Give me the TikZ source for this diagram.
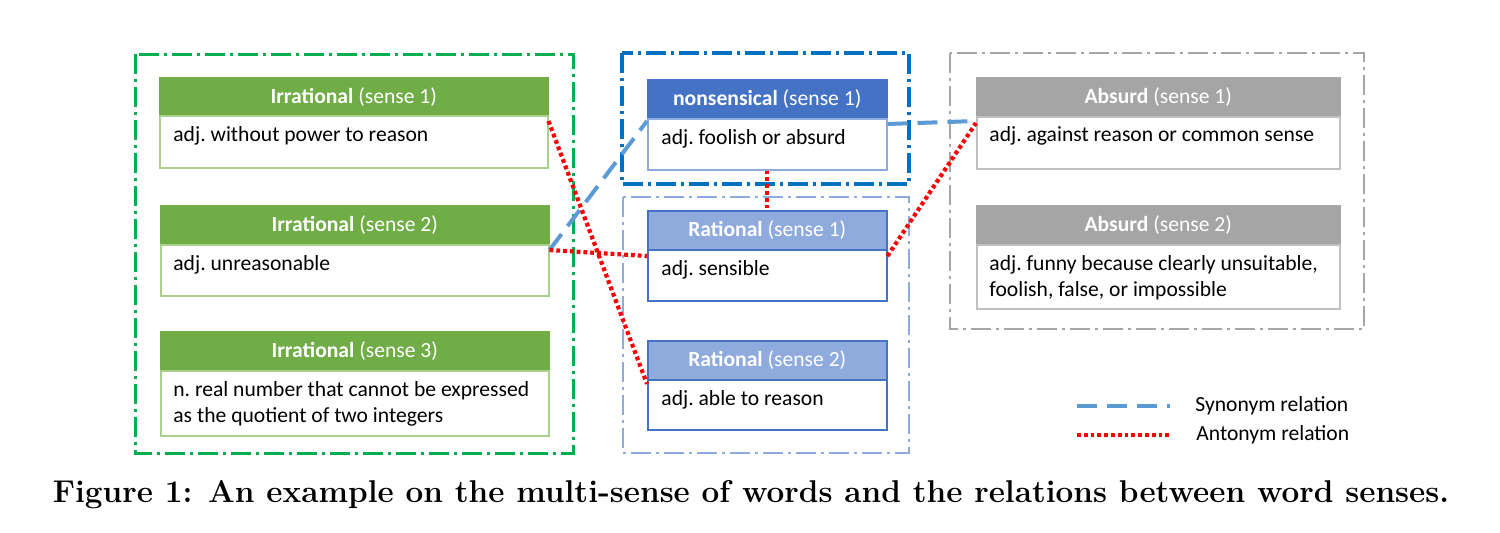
\documentclass[tikz,border=0pt]{standalone}
\usepackage{fontspec}
\newfontfamily\calibri{Carlito}
\definecolor{gfill}{HTML}{70AD47}
\definecolor{gline}{HTML}{A9D18E}
\definecolor{gcont}{HTML}{00B050}
\definecolor{bfill}{HTML}{4472C4}
\definecolor{bline}{HTML}{8FAADC}
\definecolor{bcont}{HTML}{0070C0}
\definecolor{lfill}{HTML}{8FAADC}
\definecolor{lline}{HTML}{4472C4}
\definecolor{lcont}{HTML}{8FAADC}
\definecolor{afill}{HTML}{A5A5A5}
\definecolor{aline}{HTML}{BFBFBF}
\definecolor{acont}{HTML}{A6A6A6}
\definecolor{syncol}{HTML}{5B9BD5}
\definecolor{antcol}{HTML}{FF0000}
\begin{document}
\begin{tikzpicture}[x=0.5pt,y=-0.5pt,
 cfont/.style={font=\calibri\frenchspacing\fontsize{10.8}{13}\selectfont},
 hbox/.style={cfont, anchor=north west, inner sep=0pt, text=white, line width=0.75pt},
 bbox/.style={anchor=north west, inner sep=0pt, fill=white, line width=0.75pt},
 ghd/.style={hbox, fill=gfill, draw=gfill, minimum width=194pt, minimum height=19pt},
 gbd/.style={bbox, draw=gline, minimum width=194pt, minimum height=#1},
 nhd/.style={hbox, fill=bfill, draw=bfill, minimum width=119.5pt, minimum height=19.5pt},
 nbd/.style={bbox, draw=bline, minimum width=119.5pt, minimum height=#1},
 rhd/.style={hbox, fill=lfill, draw=lline, minimum width=119.5pt, minimum height=19.5pt},
 rbd/.style={bbox, draw=lline, minimum width=119.5pt, minimum height=#1},
 ahd/.style={hbox, fill=afill, draw=afill, minimum width=181.5pt, minimum height=19.5pt},
 abd/.style={bbox, draw=aline, minimum width=181.5pt, minimum height=#1},
 btext/.style={cfont, anchor=base west, inner sep=0pt, align=left},
 cont/.style={line width=#1, dash pattern=on 10pt off 2.5pt on 1.5pt off 2.5pt},
 synline/.style={draw=syncol, line width=2pt, dash pattern=on 10pt off 5pt},
 antline/.style={draw=antcol, line width=2.1pt, dash pattern=on 1.9pt off 1.5pt},
 legtext/.style={font=\calibri\fontsize{10.8}{13}\selectfont, anchor=west, inner sep=0pt},
]
\useasboundingbox[fill=white] (0,0) rectangle (1500,532);

% containers
\draw[cont=1.5pt, gcont] (135,54) rectangle (573,453);
\draw[cont=1.6pt, bcont] (622,53) rectangle (909,184);
\draw[cont=1pt, lcont] (623,197) rectangle (909,453);
\draw[cont=1.1pt, acont] (950,53) rectangle (1364,329);

% Irrational
\node[ghd] (irr1h) at (159,77) {\textbf{Irrational} (sense 1)};
\node[gbd=26pt] (irr1) at (159,115) {};
\node[btext] (irr1t) at (173,141) {adj. without power to reason};
\node[ghd] (irr2h) at (160,205) {\textbf{Irrational} (sense 2)};
\node[gbd=25.5pt] (irr2) at (160,244) {};
\node[btext] (irr2t) at (173,270) {adj. unreasonable};
\node[ghd] (irr3h) at (160,331) {\textbf{Irrational} (sense 3)};
\node[gbd=32.5pt] (irr3) at (160,370) {};
\node[btext] (irr3t) at (173,422) {n. real number that cannot be expressed\\as the quotient of two integers};

% nonsensical
\node[nhd] (nonh) at (647,79) {\textbf{nonsensical} (sense 1)};
\node[nbd=25.5pt] (non) at (647,118) {};
\node[btext] (nont) at (661,144) {adj. foolish or absurd};

% Rational
\node[rhd] (rat1h) at (647,210) {\textbf{Rational} (sense 1)};
\node[rbd=25.5pt] (rat1) at (647,249) {};
\node[btext] (rat1t) at (661,275) {adj. sensible};
\node[rhd] (rat2h) at (647,340) {\textbf{Rational} (sense 2)};
\node[rbd=25pt] (rat2) at (647,379) {};
\node[btext] (rat2t) at (661,405) {adj. able to reason};

% Absurd
\node[ahd] (abs1h) at (976,77) {\textbf{Absurd} (sense 1)};
\node[abd=26pt] (abs1) at (976,116) {};
\node[btext] (abs1t) at (989,141) {adj. against reason or common sense};
\node[ahd] (abs2h) at (976,205) {\textbf{Absurd} (sense 2)};
\node[abd=32pt] (abs2) at (976,244) {};
\node[btext] (abs2t) at (989,296) {adj. funny because clearly unsuitable,\\foolish, false, or impossible};

% relations
\draw[synline] ([yshift=-3pt]irr2.north east) -- ([yshift=-1.5pt]non.north west);
\draw[synline] ([yshift=-3pt]non.north east) -- ([yshift=-2.5pt]abs1.north west);
\draw[antline] ([yshift=-3pt]irr1.north east) -- ([yshift=-2.5pt]rat2.north west);
\draw[antline] ([yshift=-3pt]irr2.north east) -- ([yshift=-3.5pt]rat1.north west);
\draw[antline] (non.south) -- (rat1h.north);
\draw[antline] ([yshift=-3.5pt]rat1.north east) -- ([yshift=-3.5pt]abs1.north west);

% legend
\coordinate (s1) at (1077,406);
\coordinate (s2) at (1170,406);
\coordinate (a1) at (1077,435);
\coordinate (a2) at (1172,435);
\draw[synline] (s1) -- (s2);
\draw[antline] (a1) -- (a2);
\node[legtext] (synt) at (1195,406) {Synonym relation};
\node[legtext] (antt) at (1196,435) {Antonym relation};

% caption
\node[anchor=base, inner sep=0pt, font=\bfseries\fontsize{15.75}{18}\selectfont] (cap) at (751,502) {Figure 1: An example on the multi-sense of words and the relations between word senses.};
\end{tikzpicture}
\end{document}
